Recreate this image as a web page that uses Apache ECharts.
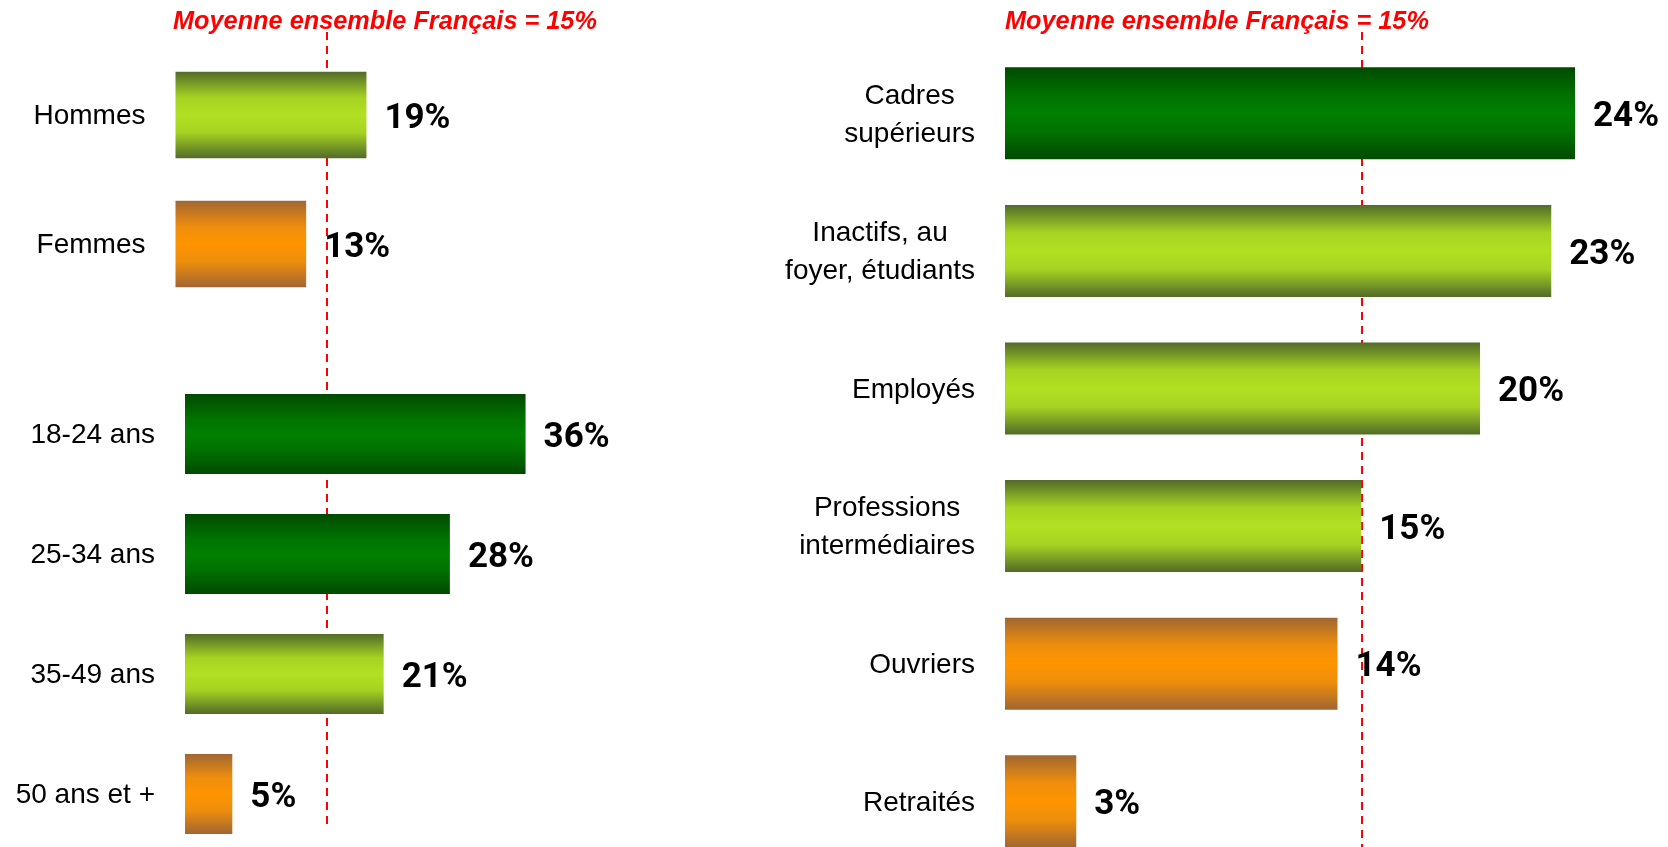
<!DOCTYPE html>
<html>
<head>
<meta charset="utf-8">
<script src="https://cdn.jsdelivr.net/npm/echarts@6/dist/echarts.min.js"></script>
<style>
  html, body { margin: 0; padding: 0; background: #fff; }
  #chart { width: 1668px; height: 847px; }
</style>
</head>
<body>
<div id="chart"></div>
<script>
// données
var genderCats = ['Hommes', 'Femmes'];
var genderVals = [19, 13];
var genderTones = ['lime', 'orange'];

var ageCats = ['18-24 ans', '25-34 ans', '35-49 ans', '50 ans et +'];
var ageVals = [36, 28, 21, 5];
var ageTones = ['dark', 'dark', 'lime', 'orange'];

var csCats = ['Cadres\nsupérieurs', 'Inactifs, au\nfoyer, étudiants', 'Employés', 'Professions\nintermédiaires', 'Ouvriers', 'Retraités'];
var csVals = [24, 23, 20, 15, 14, 3];
var csTones = ['dark', 'lime', 'lime', 'lime', 'orange', 'orange'];

var avgValue = 15;
var avgTitle = 'Moyenne ensemble Français = 15%';

var tones = {
    dark:   ['#004a00', '#007200', '#008000'],
    lime:   ['#526b29', '#a6d322', '#b2e022'],
    orange: ['#a06632', '#ee8e0c', '#ff9400']
};

function grad(name) {
    var t = tones[name];
    return new echarts.graphic.LinearGradient(0, 0, 0, 1, [
        {offset: 0, color: t[0]},
        {offset: 0.3, color: t[1]},
        {offset: 0.5, color: t[2]},
        {offset: 0.7, color: t[1]},
        {offset: 1, color: t[0]}
    ]);
}

function barData(vals, toneList) {
    return vals.map(function (v, i) {
        return {value: v, itemStyle: {color: grad(toneList[i])}};
    });
}

var catFont = {fontFamily: 'Liberation Sans', fontSize: 28, color: '#000'};

function catAxis(idx, cats) {
    return {
        type: 'category', gridIndex: idx, data: cats, inverse: true,
        axisLine: {show: false}, axisTick: {show: false}, splitLine: {show: false},
        axisLabel: {
            margin: 30, align: 'right', lineHeight: 38,
            fontFamily: catFont.fontFamily, fontSize: catFont.fontSize, color: catFont.color,
            formatter: function (val) {
                return val.split('\n').map(function (s) { return '{c|' + s + '}'; }).join('\n');
            },
            rich: {
                c: {align: 'center', lineHeight: 38, padding: [3, 0, 0, 0], fontFamily: catFont.fontFamily,
                    fontSize: catFont.fontSize, color: catFont.color}
            }
        }
    };
}

function valAxis(idx, max) {
    return {type: 'value', gridIndex: idx, min: 0, max: max, show: false, splitLine: {show: false}};
}

var valueLabel = {
    show: true, position: 'right', distance: 18, offset: [0, 4],
    fontFamily: 'Roboto', fontWeight: 'bold', fontSize: 35, color: '#000',
    formatter: '{c}%'
};

function avgLine(y0, y1) {
    return {
        silent: true, symbol: 'none', z: 1,
        label: {show: false},
        lineStyle: {color: '#ff0000', type: [8, 6], width: 2},
        data: [[{xAxis: avgValue, y: y0}, {xAxis: avgValue, y: y1}]]
    };
}

var titleStyle = {
    fontFamily: 'Liberation Sans', fontSize: 25.3, fontWeight: 'bold',
    fontStyle: 'italic', color: '#ff0000'
};

var chart = echarts.init(document.getElementById('chart'));
chart.setOption({
    animation: false,
    title: [
        {text: avgTitle, left: 173, top: 10, padding: 0, textStyle: titleStyle},
        {text: avgTitle, left: 1005, top: 10, padding: 0, textStyle: titleStyle}
    ],
    grid: [
        {left: 175.5, top: 50.5, width: 402, height: 258, outerBoundsMode: 'none'},
        {left: 185, top: 374, width: 378.4, height: 480, outerBoundsMode: 'none'},
        {left: 1005, top: 44.5, width: 617.5, height: 825.6, outerBoundsMode: 'none'}
    ],
    xAxis: [valAxis(0, 40), valAxis(1, 40), valAxis(2, 26)],
    yAxis: [catAxis(0, genderCats), catAxis(1, ageCats), catAxis(2, csCats)],
    series: [
        {
            type: 'bar', xAxisIndex: 0, yAxisIndex: 0, barWidth: 86.5, z: 2,
            data: barData(genderVals, genderTones), label: valueLabel,
            markLine: avgLine(32, 828)
        },
        {
            type: 'bar', xAxisIndex: 1, yAxisIndex: 1, barWidth: 80, z: 2,
            data: barData(ageVals, ageTones), label: valueLabel
        },
        {
            type: 'bar', xAxisIndex: 2, yAxisIndex: 2, barWidth: 92, z: 2,
            data: barData(csVals, csTones), label: valueLabel,
            markLine: avgLine(32, 847)
        }
    ]
});
</script>
</body>
</html>
